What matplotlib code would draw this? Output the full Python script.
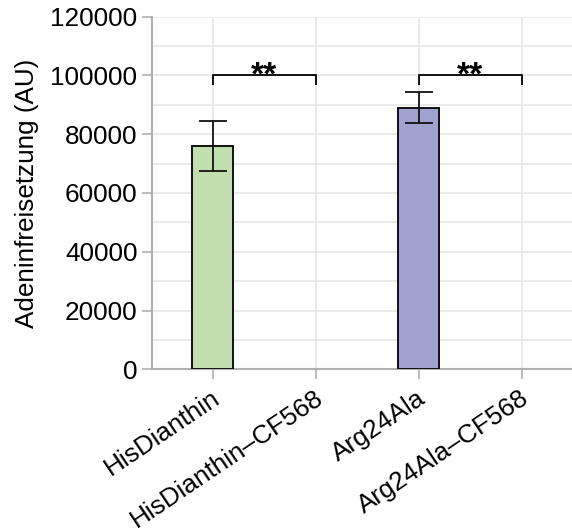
import matplotlib.pyplot as plt
import matplotlib.transforms as mtransforms
from matplotlib.ticker import MultipleLocator

# Adenine release per construct
labels = ['HisDianthin', 'HisDianthin\u2013CF568', 'Arg24Ala', 'Arg24Ala\u2013CF568']
values = [76000, 0, 89000, 0]
errors = [8600, 0, 5300, 0]
colors = ['#c0deae', '#c0deae', '#a0a3cf', '#a0a3cf']

# significance brackets: (left bar, right bar, height, text)
brackets = [(0, 1, 100000, '**'), (2, 3, 100000, '**')]

plt.rcParams['font.family'] = ['Liberation Sans', 'DejaVu Sans']
plt.rcParams['font.size'] = 18.8

fig = plt.figure(figsize=(5.72, 5.30), dpi=100)
ax = fig.add_axes([0.2657, 0.3032, 0.7343, 0.6653])

x = list(range(len(labels)))
edge_w = [1.4 if v > 0 else 0 for v in values]
ax.bar(x, values, width=0.4, color=colors, edgecolor='#111111', linewidth=edge_w, zorder=3)
for xi, v, e in zip(x, values, errors):
    if e > 0:
        ax.errorbar(xi, v, yerr=e, color='#111111', elinewidth=1.3, capsize=10,
                    capthick=1.3, zorder=4)

for a, b, h, txt in brackets:
    ax.plot([a, a, b, b], [h - 3000, h, h, h - 3000], color='#111111', lw=1.4, zorder=4)
    ax.text((a + b) / 2, h - 3000, txt, ha='center', va='baseline', fontsize=24,
            fontweight='bold')

ax.set_xlim(-0.59, 3.49)
ax.set_ylim(0, 120000)
ax.yaxis.set_major_locator(MultipleLocator(20000))
ax.yaxis.set_minor_locator(MultipleLocator(10000))
ax.set_xticks(x)
ax.set_xticklabels(labels, rotation=34, ha='right', va='center', rotation_mode='anchor')
ax.set_ylabel('Adeninfreisetzung (AU)', labelpad=8)

ax.grid(True, which='both', color='#e6e6e6', lw=1.2, zorder=0)
ax.tick_params(which='major', length=7, width=1.2, color='#b0b0b0')
ax.tick_params(axis='y', which='minor', length=0)
ax.tick_params(axis='x', pad=12)
for side in ['top', 'right']:
    ax.spines[side].set_visible(False)
for side in ['left', 'bottom']:
    ax.spines[side].set_color('#b0b0b0')
    ax.spines[side].set_linewidth(1.5)
ax.set_axisbelow(True)

# nudge the rotated category labels to the right
shift = mtransforms.ScaledTranslation(5 / 100, 0, fig.dpi_scale_trans)
for lbl in ax.get_xticklabels():
    lbl.set_transform(lbl.get_transform() + shift)

fig.savefig('out.png', dpi=100)
